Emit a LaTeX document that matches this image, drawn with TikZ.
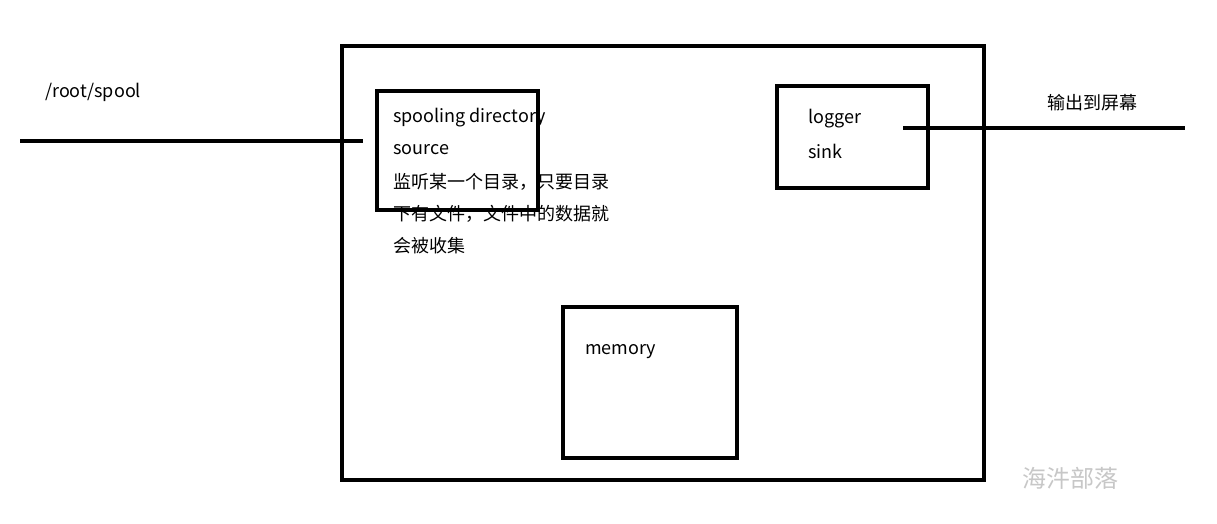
\documentclass[tikz,border=0pt]{standalone}
\usepackage{fontspec}
\setmainfont{Noto Sans CJK SC}
\newfontfamily\cjk{Noto Sans CJK SC}
\begin{document}
\begin{tikzpicture}[x=1pt,y=-1pt,
  box/.style={draw=black,line width=3.2pt,inner sep=0pt,anchor=center},
  lbl/.style={font=\cjk\fontsize{18}{20}\selectfont,inner sep=0pt,anchor=west},
  wire/.style={draw=black,line width=3.2pt}]
\useasboundingbox[fill=white] (0,0) rectangle (1217,524);
\node[box,minimum width=642pt,minimum height=434pt] (outer) at (663,263) {};
\node[box,minimum width=161pt,minimum height=119pt] (src) at (457.5,150.5) {};
\node[box,minimum width=151pt,minimum height=102pt] (sink) at (852.5,137) {};
\node[box,minimum width=174pt,minimum height=151pt] (mem) at (650,382.5) {};
\coordinate (inL) at (20,141);
\coordinate (inR) at (363,141);
\coordinate (outL) at (903,128);
\coordinate (outR) at (1185,128);
\draw[wire] (inL) -- (inR);
\draw[wire] (outL) -- (outR);
\node[lbl] (path) at (45,92) {/root/spool};
\node[lbl] (s1) at (393,118) {spooling directory};
\node[lbl] (s2) at (393,150) {source};
\node[lbl] (s3) at (393,182) {监听某一个目录，只要目录};
\node[lbl] (s4) at (393,214) {下有文件，文件中的数据就};
\node[lbl] (s5) at (393,246) {会被收集};
\node[lbl] (k1) at (808,119) {logger};
\node[lbl] (k2) at (808,151) {sink};
\node[lbl] (m1) at (585,352) {memory};
\node[lbl] (scr) at (1047,103) {输出到屏幕};
\node[lbl,font=\cjk\fontsize{24}{26}\selectfont,text=black!22] (wm) at (1022,478) {海汼部落};
\end{tikzpicture}
\end{document}
